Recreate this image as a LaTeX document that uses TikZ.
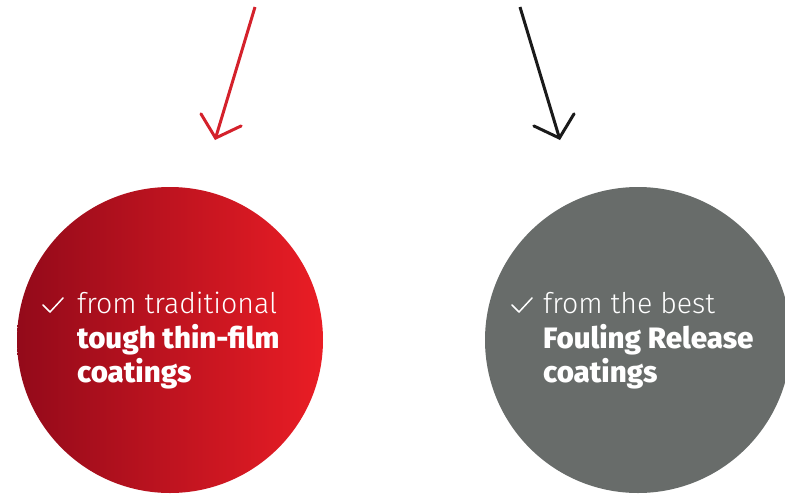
\documentclass[tikz,border=0pt]{standalone}
\usepackage{fontspec}
\usetikzlibrary{arrows.meta}
\newfontfamily\lightf{Fira Sans}[UprightFont={* Light}]
\newfontfamily\heavyf{Fira Sans}[UprightFont={* ExtraBold}]
\definecolor{rdark}{HTML}{930A1A}
\definecolor{rlight}{HTML}{EA1D25}
\definecolor{arrowred}{HTML}{D4212B}
\definecolor{arrowblack}{HTML}{1A1A1A}
\definecolor{greyfill}{HTML}{686C6A}
\tikzset{
  pointer/.style={line width=3pt, -{Straight Barb[length=19pt,width=42pt,line cap=round]}},
  thinline/.style={anchor=base west, text=white, inner sep=0pt, font=\lightf\fontsize{28.5}{34}\selectfont},
  boldline/.style={anchor=base west, text=white, inner sep=0pt, font=\heavyf\fontsize{29.5}{34}\selectfont},
  tick/.style={draw=white, line width=1.5pt, line cap=round, line join=round},
}
\begin{document}
\begin{tikzpicture}[x=1pt,y=-1pt]
\useasboundingbox (0,0) rectangle (785,493);
\clip (0,0) rectangle (785,493);
% circles
\node[circle, minimum size=306pt, inner sep=0pt, left color=rdark, right color=rlight] (redc) at (170,340) {};
\node[circle, minimum size=306pt, inner sep=0pt, fill=greyfill] (greyc) at (638,340) {};
% arrows
\coordinate (ra) at (255,7);
\coordinate (rb) at (215,140);
\coordinate (ba) at (520,7);
\coordinate (bb) at (560,140);
\draw[pointer, draw=arrowred] (ra) -- (rb);
\draw[pointer, draw=arrowblack] (ba) -- (bb);
% left text
\draw[tick] (43,305) -- (50,312) -- (63,298);
\node[thinline] (l1) at (77,313) {from traditional};
\node[boldline] (l2) at (77,348) {tough thin-film};
\node[boldline] (l3) at (77,382) {coatings};
% right text
\draw[tick] (512,305) -- (519,312) -- (532,298);
\node[thinline] (r1) at (543,313) {from the best};
\node[boldline] (r2) at (543,348) {Fouling Release};
\node[boldline] (r3) at (543,382) {coatings};
\end{tikzpicture}
\end{document}
